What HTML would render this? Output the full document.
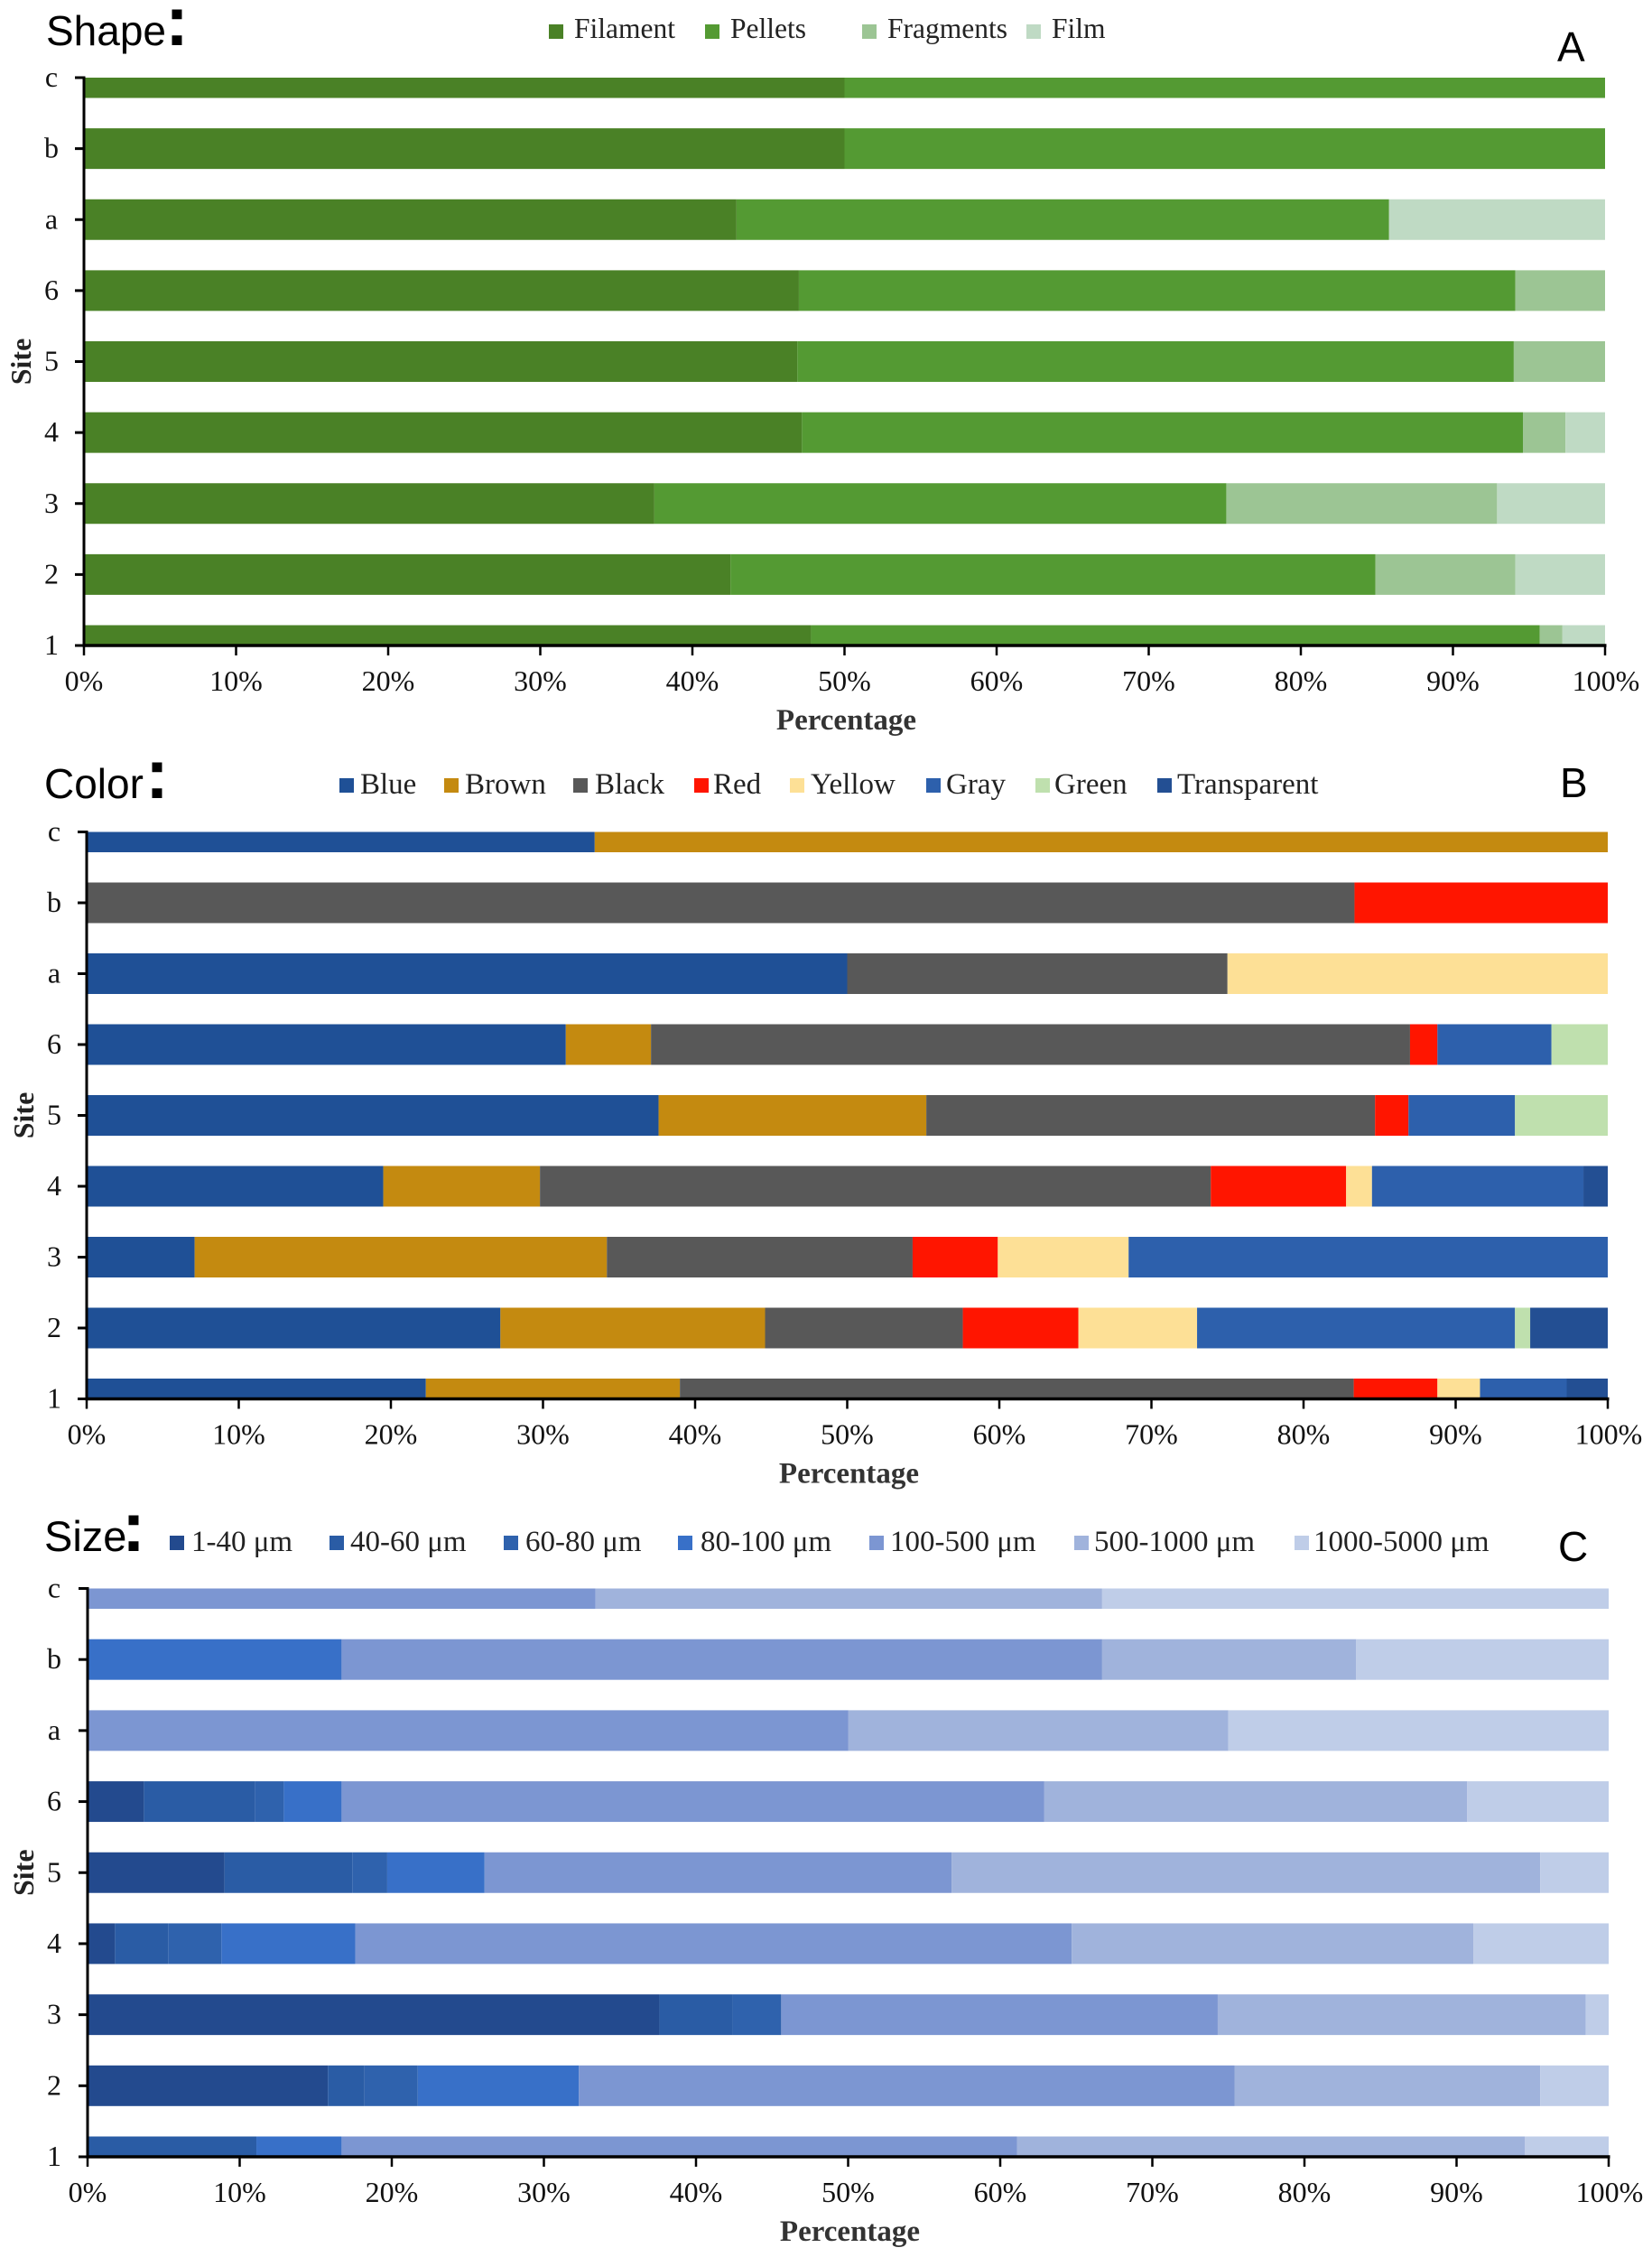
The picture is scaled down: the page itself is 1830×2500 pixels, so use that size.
<!DOCTYPE html>
<html lang="en">
<head>
<meta charset="utf-8">
<title>Microplastic shape, color and size by site</title>
<style>
html,body{margin:0;padding:0;background:#fff}
svg{display:block}
.serif{font-family:"Liberation Serif",serif;fill:#111}
.sans{font-family:"Liberation Sans",sans-serif;fill:#000}
.leg{font-size:33px;fill:#222}
.leg-a{font-size:31.5px;fill:#222}
.title{font-size:46px}
.colon{font-size:78px;font-weight:bold}
.letter{font-size:46px}
</style>
</head>
<body>
<svg id="figure" xmlns="http://www.w3.org/2000/svg" width="1830" height="2500" viewBox="0 0 1830 2500">
<rect width="1830" height="2500" fill="#fff"/>

<g>
<text class="sans title" x="51" y="50">Shape</text>
<text class="sans colon" x="183" y="50">:</text>
<text class="sans letter" x="1725" y="68">A</text>
<rect x="608" y="27" width="16" height="16" fill="#4a8126"/>
<text class="serif leg-a" x="636" y="42">Filament</text>
<rect x="781" y="27" width="16" height="16" fill="#549a33"/>
<text class="serif leg-a" x="809" y="42">Pellets</text>
<rect x="955" y="27" width="16" height="16" fill="#9cc594"/>
<text class="serif leg-a" x="983" y="42">Fragments</text>
<rect x="1137" y="27" width="16" height="16" fill="#bfdac4"/>
<text class="serif leg-a" x="1165" y="42">Film</text>
</g>

<g>
<text class="sans title" x="49" y="884">Color</text>
<text class="sans colon" x="161" y="884">:</text>
<text class="sans letter" x="1728" y="883">B</text>
<rect x="376" y="862" width="16" height="16" fill="#1f5096"/>
<text class="serif leg" x="399" y="879">Blue</text>
<rect x="492" y="862" width="16" height="16" fill="#c48a10"/>
<text class="serif leg" x="515" y="879">Brown</text>
<rect x="635" y="862" width="16" height="16" fill="#585858"/>
<text class="serif leg" x="659" y="879">Black</text>
<rect x="769" y="862" width="16" height="16" fill="#ff1500"/>
<text class="serif leg" x="790" y="879">Red</text>
<rect x="875" y="862" width="16" height="16" fill="#fde096"/>
<text class="serif leg" x="898" y="879">Yellow</text>
<rect x="1026" y="862" width="16" height="16" fill="#2d60ac"/>
<text class="serif leg" x="1048" y="879">Gray</text>
<rect x="1147" y="862" width="16" height="16" fill="#bfe0ae"/>
<text class="serif leg" x="1168" y="879">Green</text>
<rect x="1282" y="862" width="16" height="16" fill="#234f93"/>
<text class="serif leg" x="1304" y="879">Transparent</text>
</g>

<g>
<text class="sans title" x="49" y="1718" style="font-size:47px">Size</text>
<text class="sans colon" x="135" y="1718">:</text>
<text class="sans letter" x="1726" y="1729">C</text>
<rect x="188" y="1701" width="16" height="16" fill="#234a8e"/>
<text class="serif leg" x="212" y="1718">1-40 μm</text>
<rect x="365" y="1701" width="16" height="16" fill="#2a5ca5"/>
<text class="serif leg" x="388" y="1718">40-60 μm</text>
<rect x="558" y="1701" width="16" height="16" fill="#2f62ad"/>
<text class="serif leg" x="582" y="1718">60-80 μm</text>
<rect x="751" y="1701" width="16" height="16" fill="#3870c8"/>
<text class="serif leg" x="776" y="1718">80-100 μm</text>
<rect x="963" y="1701" width="16" height="16" fill="#7c96d2"/>
<text class="serif leg" x="986" y="1718">100-500 μm</text>
<rect x="1190" y="1701" width="16" height="16" fill="#a0b3dc"/>
<text class="serif leg" x="1212" y="1718">500-1000 μm</text>
<rect x="1434" y="1701" width="16" height="16" fill="#bfcde8"/>
<text class="serif leg" x="1455" y="1718">1000-5000 μm</text>
</g>
</svg>

<script>
// Shared categories and tick labels (bottom to top on the chart)
const categories = ['1','2','3','4','5','6','a','b','c'];
const xTickValues = [0,10,20,30,40,50,60,70,80,90,100];
const xTickLabels = ['0%','10%','20%','30%','40%','50%','60%','70%','80%','90%','100%'];

// Panel A: shape
const shapeFilament  = [47.8,42.5,37.5,47.2,46.9,47.0,42.9,50,50];
const shapePellets   = [47.9,42.4,37.6,47.4,47.1,47.1,42.9,50,50];
const shapeFragments = [1.5,9.2,17.8,2.8,6.0,5.9,0,0,0];
const shapeFilm      = [2.8,5.9,7.1,2.6,0,0,14.2,0,0];

// Panel B: color
const colorBlue        = [22.3,27.2,7.1,19.5,37.6,31.5,50,0,33.4];
const colorBrown       = [16.7,17.4,27.1,10.3,17.6,5.6,0,0,66.6];
const colorBlack       = [44.3,13.0,20.1,44.1,29.5,49.9,25,83.35,0];
const colorRed         = [5.5,7.6,5.6,8.9,2.2,1.8,0,16.65,0];
const colorYellow      = [2.8,7.8,8.6,1.7,0,0,25,0,0];
const colorGray        = [5.7,20.9,31.5,13.9,7.0,7.5,0,0,0];
const colorGreen       = [0,1.0,0,0,6.1,3.7,0,0,0];
const colorTransparent = [2.7,5.1,0,1.6,0,0,0,0,0];

// Panel C: size
const size1to40     = [0,15.8,37.6,1.8,9.0,3.7,0,0,0];
const size40to60    = [11.1,2.4,4.8,3.5,8.4,7.3,0,0,0];
const size60to80    = [0,3.5,3.2,3.5,2.3,1.9,0,0,0];
const size80to100   = [5.6,10.6,0,8.8,6.4,3.8,0,16.7,0];
const size100to500  = [44.4,43.1,28.7,47.1,30.7,46.2,50,50,33.4];
const size500to1000 = [33.4,20.1,24.2,26.4,38.7,27.8,25,16.7,33.3];
const size1000to5000= [5.5,4.5,1.5,8.9,4.5,9.3,25,16.6,33.3];

const NS = 'http://www.w3.org/2000/svg';
const fig = document.getElementById('figure');

function mk(parent, tag, attrs, txt){
  const n = document.createElementNS(NS, tag);
  for (const k in attrs) n.setAttribute(k, attrs[k]);
  if (txt !== undefined) n.textContent = txt;
  parent.appendChild(n);
  return n;
}

function drawPanel(p){
  const xScale = v => p.left + (p.right - p.left) * v / 100;
  const yScale = i => p.bottom - (p.bottom - p.top) * i / (categories.length - 1);
  const halfBar = 22.5;

  const g = mk(fig, 'g', {});
  
  

  categories.forEach((cat, i) => {
    const yc = yScale(i);
    const y0 = Math.max(yc - halfBar, p.top);
    const y1 = Math.min(yc + halfBar, p.bottom);
    let acc = 0;
    p.series.forEach(s => {
      const v = s.values[i];
      if (v > 0) {
        const r = mk(g, 'rect', {
          x: xScale(acc), y: y0,
          width: xScale(acc + v) - xScale(acc),
          height: y1 - y0,
          fill: s.color
        });
        
        
      }
      acc += v;
    });

    const tick = mk(g, 'line', {x1: p.left - 10, x2: p.left, y1: yc, y2: yc, stroke: '#000', 'stroke-width': 3});
    
    

    const lab = mk(g, 'text', {x: p.yLabelX, y: yc + 10, 'text-anchor': 'middle', 'font-size': 32, 'class': 'serif'}, cat);
    
    
  });

  const yAxis = mk(g, 'line', {x1: p.left, x2: p.left, y1: p.top - 1.5, y2: p.bottom + 1.5, stroke: '#000', 'stroke-width': 3});
  
  

  const xAxis = mk(g, 'line', {x1: p.left - 1.5, x2: p.right + 1.5, y1: p.bottom, y2: p.bottom, stroke: '#000', 'stroke-width': 3.5});
  
  

  xTickValues.forEach((v, i) => {
    const t = mk(g, 'line', {x1: xScale(v), x2: xScale(v), y1: p.bottom, y2: p.bottom + 11, stroke: '#000', 'stroke-width': 2.5});
    
    

    const l = mk(g, 'text', {x: xScale(v) + (v === 100 ? 1 : 0), y: p.bottom + 50, 'text-anchor': 'middle', 'font-size': 32, 'class': 'serif'}, xTickLabels[i]);
    
    
  });

  const xt = mk(g, 'text', {x: xScale(50) + 2, y: p.bottom + 93, 'text-anchor': 'middle', 'font-size': 33, 'font-weight': 'bold', 'class': 'serif', style: 'fill:#333'}, 'Percentage');
  
  

  const yMid = (yScale(4) + 0);
  const yt = mk(g, 'text', {transform: 'translate(' + p.siteX + ',' + yMid + ') rotate(-90)', 'text-anchor': 'middle', 'font-size': 32, 'font-weight': 'bold', 'class': 'serif', style: 'fill:#222'}, 'Site');
  
  
}

drawPanel({
  name: 'shape', left: 93, right: 1778, top: 86, bottom: 715, yLabelX: 57, siteX: 34,
  series: [
    {key: 'filament', values: shapeFilament, color: '#4a8126'},
    {key: 'pellets', values: shapePellets, color: '#549a33'},
    {key: 'fragments', values: shapeFragments, color: '#9cc594'},
    {key: 'film', values: shapeFilm, color: '#bfdac4'}
  ]
});
drawPanel({
  name: 'color', left: 96, right: 1781, top: 921.5, bottom: 1549.5, yLabelX: 60, siteX: 37,
  series: [
    {key: 'blue', values: colorBlue, color: '#1f5096'},
    {key: 'brown', values: colorBrown, color: '#c48a10'},
    {key: 'black', values: colorBlack, color: '#585858'},
    {key: 'red', values: colorRed, color: '#ff1500'},
    {key: 'yellow', values: colorYellow, color: '#fde096'},
    {key: 'gray', values: colorGray, color: '#2d60ac'},
    {key: 'green', values: colorGreen, color: '#bfe0ae'},
    {key: 'transparent', values: colorTransparent, color: '#234f93'}
  ]
});
drawPanel({
  name: 'size', left: 97, right: 1782, top: 1759.5, bottom: 2389, yLabelX: 60, siteX: 37,
  series: [
    {key: '1-40', values: size1to40, color: '#234a8e'},
    {key: '40-60', values: size40to60, color: '#2a5ca5'},
    {key: '60-80', values: size60to80, color: '#2f62ad'},
    {key: '80-100', values: size80to100, color: '#3870c8'},
    {key: '100-500', values: size100to500, color: '#7c96d2'},
    {key: '500-1000', values: size500to1000, color: '#a0b3dc'},
    {key: '1000-5000', values: size1000to5000, color: '#bfcde8'}
  ]
});
</script>
</body>
</html>
